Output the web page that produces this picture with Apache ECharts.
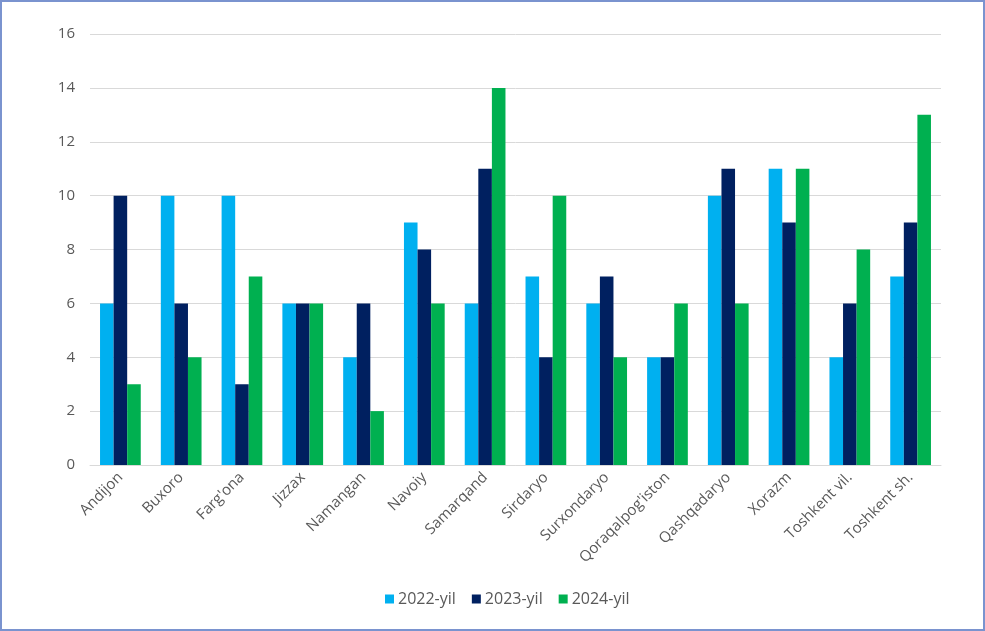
<!DOCTYPE html>
<html><head><meta charset="utf-8">
<script src="https://cdn.jsdelivr.net/npm/echarts@6/dist/echarts.min.js"></script>
<style>
html,body{margin:0;padding:0;background:#fff;}
#frame{width:985px;height:631px;box-sizing:border-box;border:2px solid #7A93CF;position:relative;}
#c{position:absolute;left:-2px;top:-2px;width:985px;height:631px;}
</style></head>
<body><div id="frame"><div id="c"></div></div>
<script>
const categories = ["Andijon","Buxoro","Farg'ona","Jizzax","Namangan","Navoiy","Samarqand","Sirdaryo","Surxondaryo","Qoraqalpog'iston","Qashqadaryo","Xorazm","Toshkent vil.","Toshkent sh."];
const seriesNames = ["2022-yil","2023-yil","2024-yil"];
const values2022 = [6,10,10,6,4,9,6,7,6,4,10,11,4,7];
const values2023 = [10,6,3,6,6,8,11,4,7,4,11,9,6,9];
const values2024 = [3,4,7,6,2,6,14,10,4,6,6,11,8,13];
const colors = ["#00B0F0","#002060","#00B050"];
const font = "'Open Sans', sans-serif";
const chart = echarts.init(document.getElementById('c'));
chart.setOption({
  animation:false,
  color:colors,
  textStyle:{fontFamily:font},
  grid:{left:90,right:44,top:34,bottom:166,containLabel:false},
  legend:{top:586,left:380,itemWidth:9,itemHeight:9,itemGap:16,icon:'rect',
    textStyle:{fontFamily:font,fontSize:16,color:'#595959',padding:[0,0,0,-1]},data:seriesNames},
  xAxis:{type:'category',data:categories,
    axisLine:{lineStyle:{color:'#D9D9D9'}},axisTick:{show:false},
    axisLabel:{rotate:45,interval:0,fontFamily:font,fontSize:15,color:'#595959',margin:10}},
  yAxis:{type:'value',min:0,max:16,interval:2,
    axisLine:{show:false},axisTick:{show:false},
    splitLine:{lineStyle:{color:'#D9D9D9'}},
    axisLabel:{fontFamily:font,fontSize:15,color:'#595959',margin:15}},
  series:[
    {name:seriesNames[0],type:'bar',data:values2022,barGap:'0%',barCategoryGap:'33%'},
    {name:seriesNames[1],type:'bar',data:values2023,barGap:'0%',barCategoryGap:'33%'},
    {name:seriesNames[2],type:'bar',data:values2024,barGap:'0%',barCategoryGap:'33%'}
  ]
});
</script></body></html>
